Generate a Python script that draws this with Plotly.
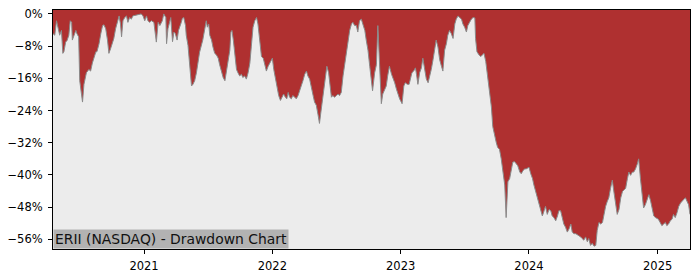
import pandas as pd
import plotly.graph_objects as go

# ---- data ----
dates = [
    "2020-04-17", "2020-04-22", "2020-04-27", "2020-05-01", "2020-05-06", "2020-05-11", "2020-05-15", "2020-05-18",
    "2020-05-23", "2020-05-27", "2020-06-01", "2020-06-05", "2020-06-09", "2020-06-11", "2020-06-17", "2020-06-21",
    "2020-06-24", "2020-06-29", "2020-07-02", "2020-07-10", "2020-07-14", "2020-07-21", "2020-07-28", "2020-08-02",
    "2020-08-07", "2020-08-12", "2020-08-17", "2020-08-20", "2020-08-26", "2020-08-31", "2020-09-05", "2020-09-09",
    "2020-09-14", "2020-09-19", "2020-09-23", "2020-09-28", "2020-10-03", "2020-10-07", "2020-10-12", "2020-10-17",
    "2020-10-22", "2020-10-26", "2020-10-29", "2020-11-02", "2020-11-07", "2020-11-12", "2020-11-16", "2020-11-21",
    "2020-11-26", "2020-11-30", "2020-12-10", "2020-12-20", "2020-12-24", "2020-12-29", "2021-01-03", "2021-01-08",
    "2021-01-12", "2021-01-17", "2021-01-22", "2021-01-29", "2021-02-02", "2021-02-05", "2021-02-10", "2021-02-15",
    "2021-02-22", "2021-02-26", "2021-03-04", "2021-03-06", "2021-03-10", "2021-03-15", "2021-03-18", "2021-03-23",
    "2021-03-27", "2021-03-31", "2021-04-05", "2021-04-09", "2021-04-13", "2021-04-17", "2021-04-20", "2021-04-24",
    "2021-04-29", "2021-05-01", "2021-05-06", "2021-05-11", "2021-05-16", "2021-05-20", "2021-05-25", "2021-05-30",
    "2021-06-04", "2021-06-08", "2021-06-17", "2021-06-23", "2021-06-27", "2021-06-30", "2021-07-04", "2021-07-07",
    "2021-07-12", "2021-07-16", "2021-07-21", "2021-07-26", "2021-07-31", "2021-08-04", "2021-08-09", "2021-08-14",
    "2021-08-19", "2021-08-23", "2021-08-28", "2021-09-02", "2021-09-05", "2021-09-08", "2021-09-12", "2021-09-16",
    "2021-09-21", "2021-09-25", "2021-09-30", "2021-10-05", "2021-10-09", "2021-10-14", "2021-10-19", "2021-10-24",
    "2021-10-29", "2021-11-02", "2021-11-07", "2021-11-12", "2021-11-17", "2021-11-21", "2021-11-26", "2021-12-01",
    "2021-12-06", "2021-12-10", "2021-12-15", "2021-12-20", "2021-12-24", "2021-12-29", "2022-01-01", "2022-01-05",
    "2022-01-09", "2022-01-14", "2022-01-19", "2022-01-24", "2022-01-28", "2022-02-02", "2022-02-07", "2022-02-11",
    "2022-02-15", "2022-02-19", "2022-02-24", "2022-02-28", "2022-03-06", "2022-03-10", "2022-03-15", "2022-03-20",
    "2022-03-24", "2022-03-29", "2022-04-03", "2022-04-08", "2022-04-12", "2022-04-17", "2022-04-22", "2022-04-27",
    "2022-05-01", "2022-05-06", "2022-05-11", "2022-05-15", "2022-05-18", "2022-05-23", "2022-05-27", "2022-05-31",
    "2022-06-05", "2022-06-10", "2022-06-15", "2022-06-18", "2022-06-22", "2022-06-27", "2022-07-02", "2022-07-07",
    "2022-07-11", "2022-07-16", "2022-07-21", "2022-07-26", "2022-07-31", "2022-08-04", "2022-08-09", "2022-08-14",
    "2022-08-18", "2022-08-23", "2022-08-28", "2022-09-01", "2022-09-06", "2022-09-11", "2022-09-16", "2022-09-21",
    "2022-09-25", "2022-09-30", "2022-10-05", "2022-10-09", "2022-10-13", "2022-10-19", "2022-10-24", "2022-10-28",
    "2022-11-02", "2022-11-07", "2022-11-11", "2022-11-16", "2022-11-21", "2022-11-25", "2022-11-30", "2022-12-06",
    "2022-12-10", "2022-12-15", "2022-12-20", "2022-12-24", "2022-12-29", "2023-01-05", "2023-01-10", "2023-01-14",
    "2023-01-20", "2023-01-25", "2023-01-29", "2023-02-02", "2023-02-07", "2023-02-12", "2023-02-15", "2023-02-19",
    "2023-02-24", "2023-03-01", "2023-03-05", "2023-03-10", "2023-03-15", "2023-03-20", "2023-03-24", "2023-03-29",
    "2023-04-03", "2023-04-08", "2023-04-12", "2023-04-17", "2023-04-22", "2023-04-27", "2023-05-01", "2023-05-06",
    "2023-05-11", "2023-05-15", "2023-05-20", "2023-05-25", "2023-05-30", "2023-06-04", "2023-06-08", "2023-06-13",
    "2023-06-18", "2023-06-23", "2023-06-27", "2023-07-02", "2023-07-07", "2023-07-11", "2023-07-16", "2023-07-21",
    "2023-07-26", "2023-07-31", "2023-08-02", "2023-08-06", "2023-08-12", "2023-08-17", "2023-08-21", "2023-08-26",
    "2023-08-31", "2023-09-04", "2023-09-09", "2023-09-13", "2023-09-16", "2023-09-20", "2023-09-25", "2023-09-30",
    "2023-10-04", "2023-10-09", "2023-10-14", "2023-10-19", "2023-10-24", "2023-10-28", "2023-11-02", "2023-11-07",
    "2023-11-12", "2023-11-16", "2023-11-21", "2023-11-26", "2023-11-30", "2023-12-06", "2023-12-10", "2023-12-15",
    "2023-12-20", "2023-12-24", "2024-01-01", "2024-01-06", "2024-01-11", "2024-01-15", "2024-01-20", "2024-01-25",
    "2024-01-29", "2024-02-03", "2024-02-08", "2024-02-13", "2024-02-17", "2024-02-22", "2024-02-27", "2024-03-03",
    "2024-03-07", "2024-03-12", "2024-03-17", "2024-03-22", "2024-03-26", "2024-03-31", "2024-04-05", "2024-04-09",
    "2024-04-14", "2024-04-19", "2024-04-24", "2024-04-29", "2024-05-03", "2024-05-08", "2024-05-13", "2024-05-17",
    "2024-05-22", "2024-05-27", "2024-05-31", "2024-06-05", "2024-06-10", "2024-06-15", "2024-06-19", "2024-06-24",
    "2024-06-29", "2024-07-04", "2024-07-09", "2024-07-13", "2024-07-18", "2024-07-23", "2024-07-28", "2024-08-01",
    "2024-08-06", "2024-08-11", "2024-08-15", "2024-08-20", "2024-08-25", "2024-08-30", "2024-09-04", "2024-09-08",
    "2024-09-13", "2024-09-18", "2024-09-23", "2024-09-27", "2024-10-02", "2024-10-07", "2024-10-11", "2024-10-16",
    "2024-10-21", "2024-10-25", "2024-10-30", "2024-11-04", "2024-11-08", "2024-11-13", "2024-11-18", "2024-11-22",
    "2024-11-27", "2024-12-02", "2024-12-07", "2024-12-12", "2024-12-17", "2024-12-21", "2024-12-26", "2024-12-31",
    "2025-01-03", "2025-01-08", "2025-01-13", "2025-01-18", "2025-01-23", "2025-01-27", "2025-02-01", "2025-02-06",
    "2025-02-11", "2025-02-15", "2025-02-20", "2025-02-25", "2025-03-02", "2025-03-07", "2025-03-11", "2025-03-16",
    "2025-03-21", "2025-03-26", "2025-03-30", "2025-04-03",
]

drawdown_pct = [
    -4.9, -5.3, -1.7, -3.3, -5.3, -4.1, -9.8, -9.4,
    -7.0, -6.6, -5.3, -1.7, -2.1, -6.5, -4.9, -4.1,
    -4.9, -5.7, -16.6, -21.9, -17.5, -14.6, -13.8, -14.2,
    -12.2, -10.6, -9.4, -9.4, -7.4, -4.9, -2.9, -2.7,
    -3.7, -6.5, -9.8, -8.6, -7.4, -6.1, -3.7, -2.1,
    -0.5, -2.5, -5.7, -1.7, -0.9, -0.5, -2.1, -0.9,
    -1.3, -0.5, -0.3, -0.1, 0.0, -0.5, -1.7, -0.5,
    -1.7, -2.1, -1.7, -2.1, -4.9, -7.0, -2.1, -2.9,
    -1.7, 0.0, -0.9, -7.4, -3.7, -1.7, -0.9, -6.9,
    -4.5, -4.9, -6.5, -4.1, -3.3, -2.1, -1.1, -0.9,
    -2.9, -5.3, -7.8, -12.6, -17.9, -17.5, -16.6, -14.6,
    -11.0, -9.5, -6.5, -4.1, -1.7, -3.3, -2.5, -5.3,
    -6.5, -8.2, -9.8, -10.2, -11.0, -12.6, -14.6, -15.8,
    -16.6, -14.6, -12.2, -9.0, -4.5, -4.1, -6.5, -10.6,
    -13.8, -14.6, -15.4, -15.0, -15.8, -15.4, -16.2, -14.6,
    -12.2, -8.2, -3.3, -1.7, -0.9, -2.5, -6.5, -10.6,
    -11.0, -12.2, -14.2, -13.0, -12.2, -11.4, -11.0, -13.8,
    -15.8, -18.3, -20.3, -21.5, -20.7, -19.9, -20.7, -21.1,
    -19.5, -20.7, -21.1, -20.3, -20.7, -21.1, -20.3, -18.7,
    -17.9, -16.6, -15.0, -14.2, -15.4, -16.2, -17.9, -20.3,
    -21.9, -22.7, -25.1, -27.2, -25.1, -21.9, -19.5, -16.2,
    -13.0, -14.6, -18.7, -20.7, -20.3, -20.7, -20.3, -19.9,
    -20.3, -19.5, -15.4, -12.2, -9.0, -6.5, -4.1, -2.5,
    -2.1, -2.9, -2.9, -4.5, -1.7, -1.3, -2.5, -4.1,
    -6.5, -9.0, -13.0, -16.2, -19.1, -14.6, -12.6, -2.9,
    -14.6, -22.3, -19.9, -18.7, -17.9, -15.4, -13.0, -15.0,
    -15.8, -17.1, -18.7, -19.9, -21.1, -22.3, -17.9, -17.1,
    -17.5, -17.5, -15.8, -14.6, -14.2, -13.4, -15.0, -17.5,
    -14.6, -13.4, -11.0, -13.8, -16.2, -17.1, -15.8, -13.8,
    -11.4, -9.0, -6.5, -8.2, -11.4, -13.0, -14.2, -9.0,
    -7.4, -5.3, -4.1, -4.9, -6.1, -2.5, -1.3, -0.5,
    -0.9, -1.3, -2.5, -3.3, -4.5, -2.9, -2.1, -1.3,
    -0.9, -1.0, -6.1, -9.4, -10.2, -10.6, -10.2, -9.8,
    -11.8, -15.0, -18.3, -21.5, -23.1, -28.0, -30.4, -32.0,
    -33.2, -33.6, -36.0, -39.3, -42.5, -50.6, -41.7, -40.9,
    -38.5, -36.8, -36.7, -37.3, -37.7, -39.3, -39.7, -38.9,
    -38.5, -38.5, -38.1, -39.7, -40.9, -42.5, -44.1, -45.7,
    -46.9, -48.9, -50.2, -48.9, -47.8, -49.8, -48.6, -48.9,
    -50.2, -50.6, -51.4, -50.2, -48.9, -48.9, -50.6, -52.2,
    -53.0, -54.2, -53.4, -52.2, -54.2, -54.6, -54.6, -54.8,
    -55.0, -55.4, -55.8, -56.2, -55.4, -56.6, -55.8, -57.5,
    -57.0, -57.7, -57.5, -53.8, -51.8, -52.2, -51.8, -49.8,
    -47.8, -46.5, -45.7, -43.3, -41.3, -44.5, -47.4, -49.8,
    -48.6, -45.7, -44.1, -43.7, -43.3, -40.9, -39.3, -40.1,
    -39.3, -39.3, -38.5, -37.3, -36.0, -40.9, -45.7, -48.2,
    -47.4, -46.1, -44.9, -46.5, -49.0, -50.2, -50.6, -51.0,
    -51.0, -51.8, -52.6, -52.2, -51.8, -52.6, -52.2, -51.4,
    -51.0, -49.8, -50.6, -49.4, -47.8, -47.0, -46.5, -46.1,
    -45.7, -46.5, -47.4, -49.8,
]

y_tick_values = [0, -8, -16, -24, -32, -40, -48, -56]
y_tick_labels = ["0%", "\u22128%", "\u221216%", "\u221224%", "\u221232%", "\u221240%", "\u221248%", "\u221256%"]
x_tick_values = ["2021-01-01", "2022-01-01", "2023-01-01", "2024-01-01", "2025-01-01"]
x_tick_labels = ["2021", "2022", "2023", "2024", "2025"]
chart_label = "ERII (NASDAQ) - Drawdown Chart"

Y_MIN, Y_MAX = -58.4, 0.97
RED = "#AF3030"
BG = "#ECECEC"

x = pd.to_datetime(dates)

fig = go.Figure()
# upper bound for the red fill (top of the axis)
fig.add_trace(go.Scatter(x=x, y=[Y_MAX] * len(x), mode="lines",
                         line=dict(width=0, color=RED), hoverinfo="skip", showlegend=False))
fig.add_trace(go.Scatter(x=x, y=drawdown_pct, mode="lines", fill="tonexty",
                         fillcolor=RED, line=dict(color="#8a8a8a", width=1),
                         showlegend=False))

axis_font = dict(family="DejaVu Sans", size=11.5, color="#000000")
fig.update_layout(
    width=700, height=280,
    margin=dict(l=53, r=10, t=7, b=28),
    paper_bgcolor="#FFFFFF",
    plot_bgcolor=BG,
    font=axis_font,
    xaxis=dict(
        type="date",
        range=[x[0], x[-1]],
        tickvals=pd.to_datetime(x_tick_values), ticktext=x_tick_labels,
        showgrid=False, zeroline=False,
        showline=True, linecolor="#000000", linewidth=1, mirror=True,
        ticks="outside", ticklen=4, tickwidth=1, tickcolor="#000000",
        tickfont=axis_font, ticklabelstandoff=2,
    ),
    yaxis=dict(
        range=[Y_MIN, Y_MAX],
        tickvals=y_tick_values, ticktext=y_tick_labels,
        showgrid=False, zeroline=False,
        showline=True, linecolor="#000000", linewidth=1, mirror=True,
        ticks="outside", ticklen=4, tickwidth=1, tickcolor="#000000",
        tickfont=axis_font, ticklabelstandoff=3,
    ),
    annotations=[dict(
        text=chart_label, xref="paper", yref="paper", x=0, y=0,
        xanchor="left", yanchor="bottom", showarrow=False,
        bgcolor="#B2B2B2", borderpad=1,
        font=dict(family="DejaVu Sans", size=13.9, color="#111111"),
    )],
)

fig.write_html("out.html")
